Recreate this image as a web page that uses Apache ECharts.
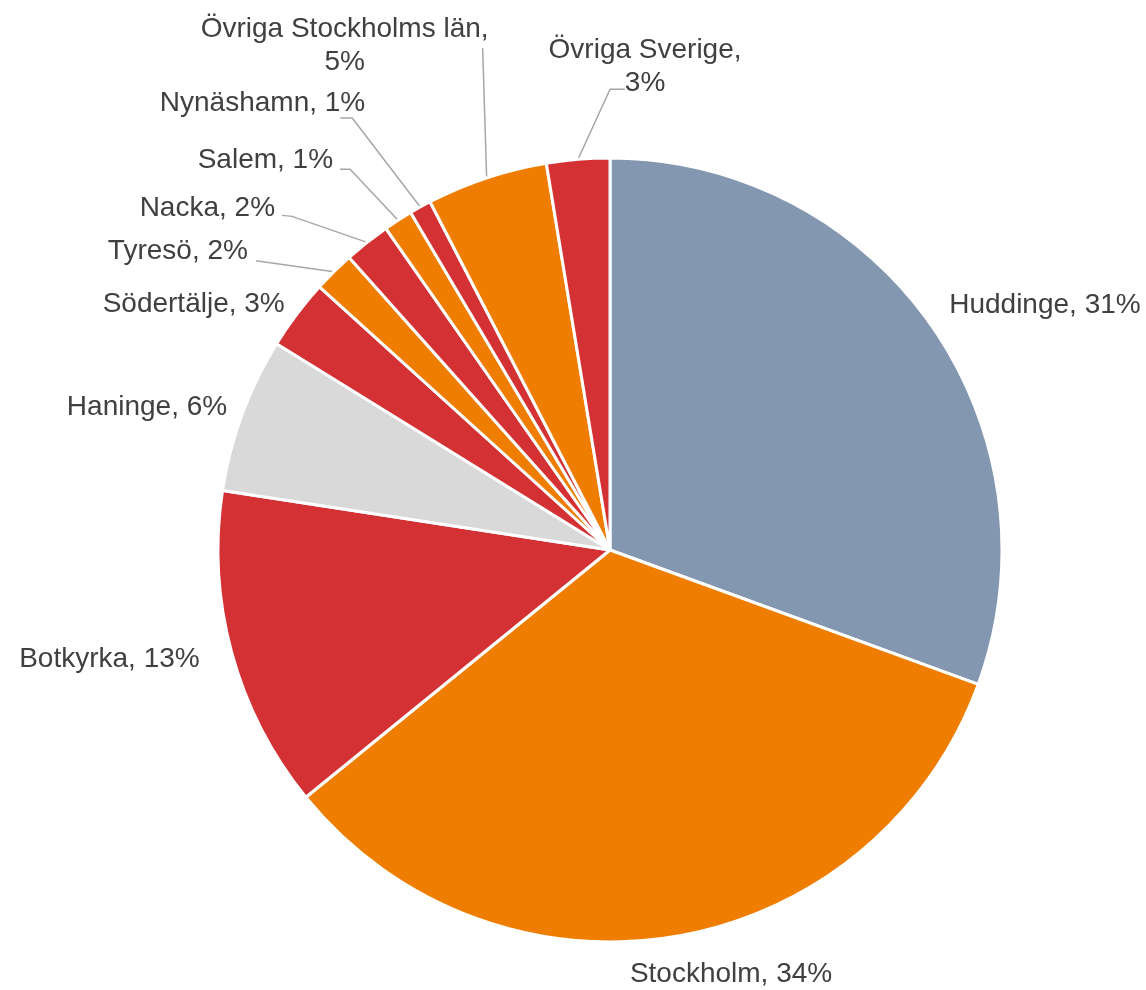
<!DOCTYPE html>
<html>
<head>
<meta charset="utf-8">
<script src="https://cdn.jsdelivr.net/npm/echarts@6/dist/echarts.min.js"></script>
<style>
  html, body { margin: 0; padding: 0; background: #fff; }
  #chart { width: 1146px; height: 990px; }
</style>
</head>
<body>
<div id="chart"></div>
<script>
// andelar per kommun, i procent (medurs från kl. 12)
const categories = [
  'Huddinge', 'Stockholm', 'Botkyrka', 'Haninge', 'Södertälje', 'Tyresö',
  'Nacka', 'Salem', 'Nynäshamn', 'Övriga Stockholms län', 'Övriga Sverige'
];
const values = [30.6, 33.6, 13.3, 6.4, 2.9, 1.7, 1.9, 1.2, 0.9, 5.0, 2.6];
const colors = [
  '#8497B0', '#EF7D00', '#D43135', '#D9D9D9', '#D43135', '#EF7D00',
  '#D43135', '#EF7D00', '#D43135', '#EF7D00', '#D43135'
];

// etikettplacering relativt sektorns ytterkant (som i Excel-förlagan)
const labelPlacement = [
  { dx: 18, dy: -20, align: 'left' },
  { dx: -45, dy: 38, align: 'left' },
  { dx: -32, dy: 7, align: 'right' },
  { dx: -15, dy: -7, align: 'right' },
  { dx: -12, dy: -10, align: 'right' },
  { dx: -86, dy: -20, align: 'right', line: [[-78, -11]] },
  { dx: -92, dy: -34, align: 'right', line: [[-75, -26], [-85, -27]] },
  { dx: -65, dy: -60, align: 'right', line: [[-48, -51], [-58, -51]] },
  { dx: -55, dy: -104, align: 'right', line: [[-68, -89], [-80, -89]] },
  { dx: -142, dy: -132, align: 'center', line: [[-4, -130]] },
  { dx: 67, dy: -93, align: 'center', line: [[32, -70], [47, -70]] }
];

const chart = echarts.init(document.getElementById('chart'), null, { renderer: 'canvas' });

function edgePoint(i) {
  const lay = chart.getModel().getSeriesByIndex(0).getData().getItemLayout(i);
  const mid = (lay.startAngle + lay.endAngle) / 2;
  return [lay.cx + lay.r * Math.cos(mid), lay.cy + lay.r * Math.sin(mid)];
}

chart.setOption({
  animation: false,
  series: [{
    type: 'pie',
    center: [610, 550],
    radius: [0, 392],
    startAngle: 90,
    clockwise: true,
    avoidLabelOverlap: false,
    data: categories.map((name, i) => ({
      name,
      value: values[i],
      itemStyle: { color: colors[i] },
      labelLine: { show: !!labelPlacement[i].line }
    })),
    itemStyle: { borderColor: '#fff', borderWidth: 3 },
    label: {
      show: true,
      position: 'outside',
      color: '#404040',
      fontFamily: 'Liberation Sans, Arial, sans-serif',
      fontSize: 28,
      lineHeight: 33,
      formatter: p => {
        const pct = Math.round(p.value) + '%';
        return p.name.length > 12 ? p.name + ',\n' + pct : p.name + ', ' + pct;
      }
    },
    labelLine: {
      length: 10,
      length2: 10,
      lineStyle: { color: '#A6A6A6', width: 1.5 }
    },
    labelLayout: p => {
      const pl = labelPlacement[p.dataIndex];
      const a = edgePoint(p.dataIndex);
      const out = {
        x: a[0] + pl.dx,
        y: a[1] + pl.dy,
        align: pl.align,
        verticalAlign: 'middle'
      };
      if (pl.line) {
        out.labelLinePoints = [a].concat(pl.line.map(d => [a[0] + d[0], a[1] + d[1]]));
      }
      return out;
    },
    emphasis: { disabled: true }
  }]
});
</script>
</body>
</html>
